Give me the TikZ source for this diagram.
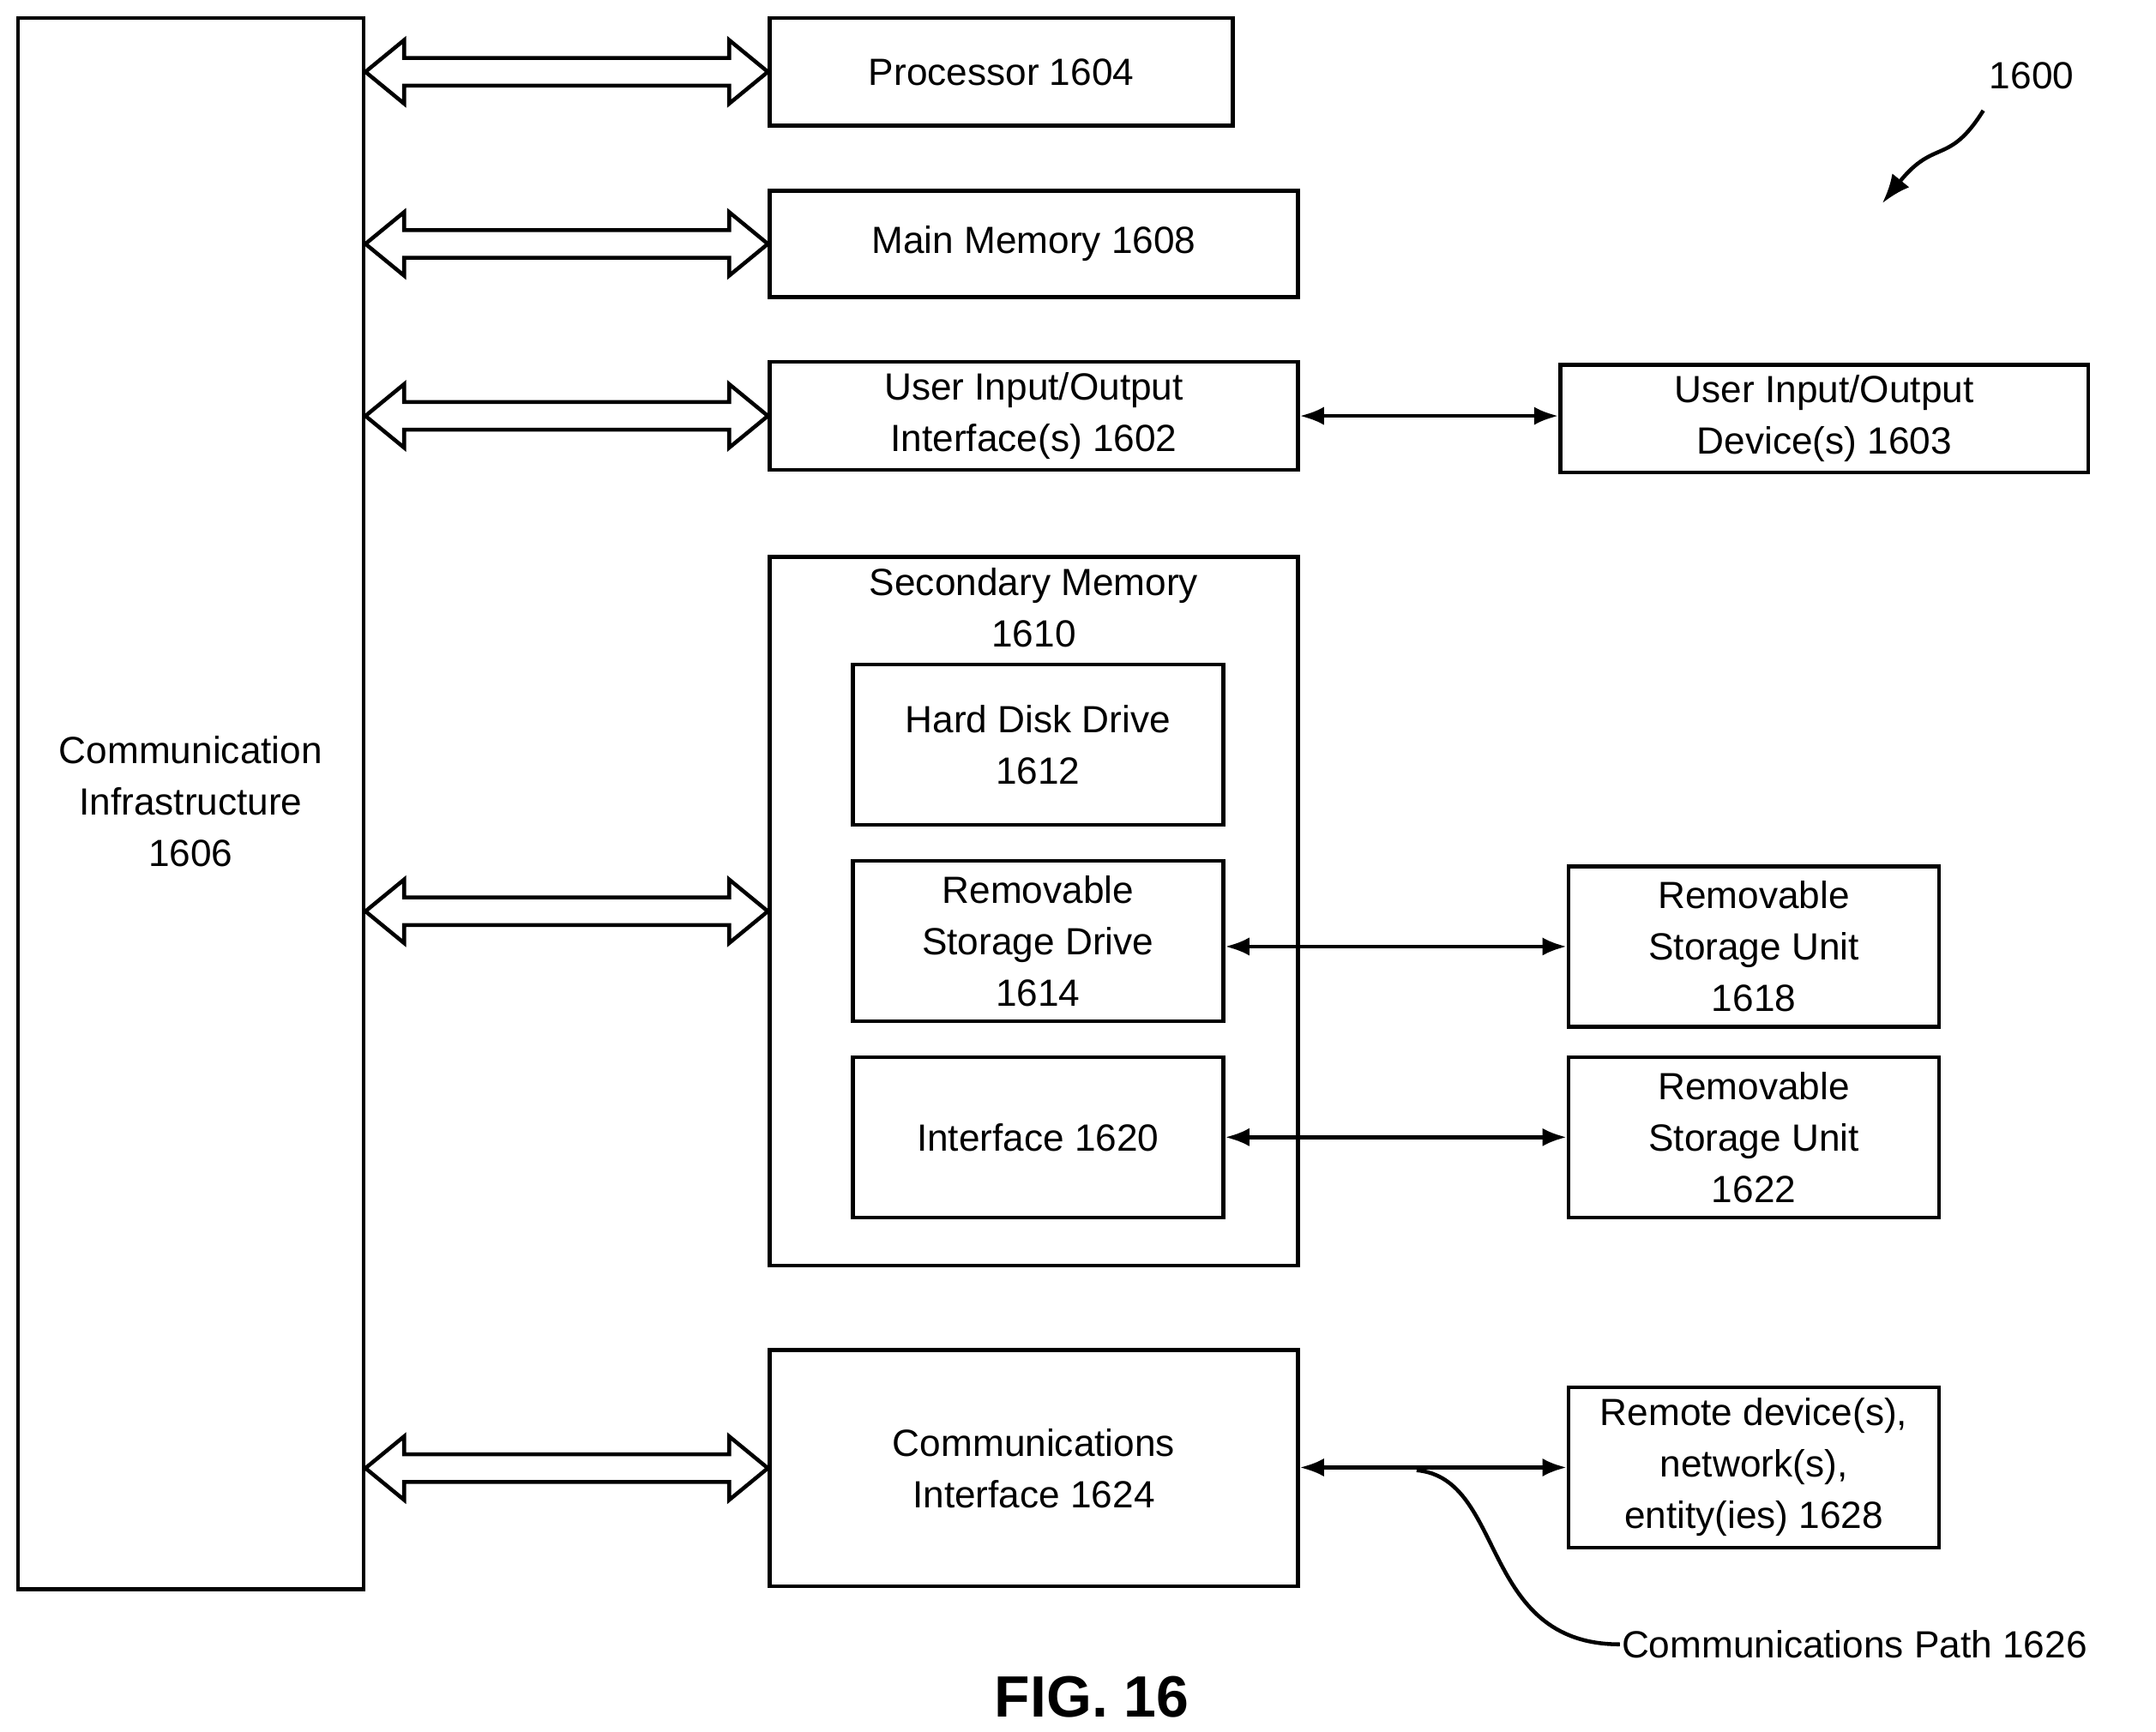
\documentclass[tikz,border=0pt]{standalone}
\usepackage{fontspec}
\setmainfont{Liberation Sans}
\usetikzlibrary{positioning,calc,arrows.meta}

\tikzset{
  blk/.style={draw,thick,align=center,font=\fontsize{7.8}{10.6}\selectfont,inner sep=0pt},
  bus/.style={thick,line join=miter},
  link/.style={thick,{Latex[length=5pt]}-{Latex[length=5pt]}}
}
\newcommand{\blkbox}[6]{% name, x1, y1, x2, y2, text
  \node[blk,minimum width=#4cm-#2cm,minimum height=#5cm-#3cm] (#1) at ({(#2+#4)/2},{-(#3+#5)/2}) {#6};}

\begin{document}
\begin{tikzpicture}
  \useasboundingbox (0,0) rectangle (15.6,-12.53);
  % Blocks
  \blkbox{infra}{0.13}{0.13}{2.63}{11.5}{}
  \node[blk,draw=none] at (1.38,-5.8) {Communication\\Infrastructure\\1606};
  \blkbox{proc}{5.57}{0.13}{8.92}{0.91}{Processor 1604}
  \blkbox{mem}{5.57}{1.38}{9.39}{2.15}{Main Memory 1608}
  \blkbox{uio}{5.57}{2.62}{9.39}{3.40}{User Input/Output\\Interface(s) 1602}
  \blkbox{uiodev}{11.29}{2.64}{15.11}{3.42}{User Input/Output\\Device(s) 1603}
  \blkbox{sec}{5.57}{4.03}{9.39}{9.16}{}
  \node[blk,draw=none,below=0.08cm of sec.north] {Secondary Memory\\1610};
  \blkbox{hdd}{6.17}{4.81}{8.85}{5.97}{Hard Disk Drive\\1612}
  \blkbox{rsd}{6.17}{6.23}{8.85}{7.39}{Removable\\Storage Drive\\1614}
  \blkbox{intf}{6.17}{7.65}{8.85}{8.81}{Interface 1620}
  \blkbox{rsu}{11.35}{6.27}{14.03}{7.43}{Removable\\Storage Unit\\1618}
  \blkbox{rsub}{11.35}{7.65}{14.03}{8.81}{Removable\\Storage Unit\\1622}
  \blkbox{comm}{5.57}{9.77}{9.39}{11.48}{Communications\\Interface 1624}
  \blkbox{remote}{11.35}{10.04}{14.03}{11.20}{Remote device(s),\\network(s),\\entity(ies) 1628}
  % Buses
  \foreach \blk in {proc,mem,uio,sec,comm}
    \draw[bus] let \p1=(infra.east |- \blk.west), \p2=(\blk.west) in
      (\x1,\y1) -- ({\x1+0.28cm},{\y1+0.23cm}) -- ({\x1+0.28cm},{\y1+0.10cm})
      -- ({\x2-0.28cm},{\y1+0.10cm}) -- ({\x2-0.28cm},{\y1+0.23cm}) -- (\x2,\y1)
      -- ({\x2-0.28cm},{\y1-0.23cm}) -- ({\x2-0.28cm},{\y1-0.10cm})
      -- ({\x1+0.28cm},{\y1-0.10cm}) -- ({\x1+0.28cm},{\y1-0.23cm}) -- cycle;
  % Links
  \draw[link] (uio.east) -- (uio.east -| uiodev.west);
  \draw[link] (rsd.east |- rsu.west) -- (rsu.west);
  \draw[link] (intf.east) -- (rsub.west);
  \draw[link] (comm.east |- remote.west) -- (remote.west);
  % Labels
  \coordinate (tap) at (10.25,-10.64);
  \node[blk,draw=none,anchor=west] (path) at (11.72,-11.9) {Communications Path 1626};
  \draw[thick] (tap) .. controls (10.9,-10.7) and (10.7,-11.9) .. (path.west);
  \node[blk,draw=none] (ref) at (14.7,-0.55) {1600};
  \draw[thick,-{Latex[length=6pt]}] (14.35,-0.8) .. controls (14.1,-1.2) and (14.0,-1.0) .. (13.62,-1.47);
  \node[font=\bfseries\fontsize{12}{14}\selectfont] (fig) at (7.9,-12.28) {FIG. 16};
\end{tikzpicture}
\end{document}
